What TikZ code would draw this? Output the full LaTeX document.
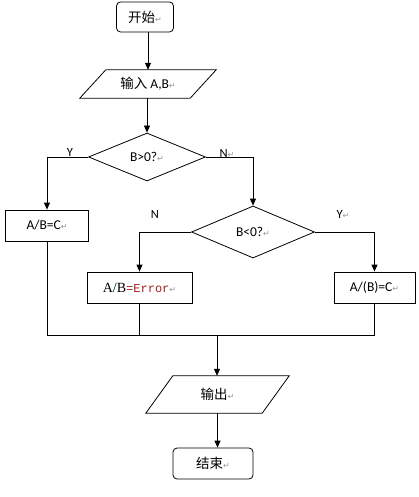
\documentclass[tikz,border=0pt]{standalone}
\usepackage{fontspec}
\setmainfont{Carlito}
\newfontfamily\cjk{Noto Sans CJK SC}
\newfontfamily\symf{DejaVu Sans}
\newfontfamily\serf{Liberation Serif}
\newfontfamily\monof{Liberation Mono}
\usetikzlibrary{shapes.geometric,arrows.meta,calc}
\definecolor{pmcol}{RGB}{150,150,150}
\definecolor{errcol}{RGB}{165,30,30}
\newcommand{\pmk}{{\symf\color{pmcol}\fontsize{8}{8}\selectfont ↵}}
\begin{document}
\begin{tikzpicture}[x=1pt,y=-1pt,
  font=\fontsize{13.5}{15}\selectfont,
  line/.style={draw, line width=0.8pt},
  arr/.style={line, -{Triangle[length=7pt,width=6pt]}},
  rbox/.style={draw, line width=0.8pt, rounded corners=4pt, inner sep=0pt},
  box/.style={draw, line width=0.8pt, minimum height=31pt, inner sep=0pt},
  dec/.style={diamond, draw, line width=0.8pt, inner sep=0pt, aspect=2.4},
  pg/.style={inner sep=0pt},
  lbl/.style={font=\fontsize{12.5}{14}\selectfont}]
\useasboundingbox (0,0) rectangle (418,497);
\fill[white] (0,0) rectangle (418,497);

\node[rbox, minimum width=57pt, minimum height=30pt] (start) at (145,17) {{\cjk 开始}\pmk};

\node[pg, minimum width=110pt, minimum height=28pt] (in) at (148,84) {{\cjk 输入} A,B\pmk};
\draw[line] ($(in.north west)+(13,0)$) -- ($(in.north east)+(13,0)$) -- ($(in.south east)+(-13,0)$) -- ($(in.south west)+(-13,0)$) -- cycle;

\node[dec, minimum width=117pt, minimum height=48pt] (d1) at (147,157) {B>0?\pmk};
\node[box, minimum width=83pt] (ab) at (47,225.5) {A/B=C\pmk};
\node[dec, minimum width=123pt, minimum height=52pt] (d2) at (253,232) {B<0?\pmk};
\node[box, minimum width=105pt] (er) at (139.5,287.5) {\raisebox{-3pt}{{\serf\fontsize{14}{15}\selectfont A/B}{\monof\fontsize{12}{13}\selectfont\color{errcol}=Error}\pmk}};
\node[box, minimum width=81pt] (ac) at (374.5,287.5) {A/(B)=C\pmk};
\coordinate (m) at (217,335);

\node[pg, minimum width=116pt, minimum height=37pt] (out) at (217.5,394.5) {{\cjk 输出}\pmk};
\draw[line] ($(out.north west)+(13.5,0)$) -- ($(out.north east)+(13.5,0)$) -- ($(out.south east)+(-13.5,0)$) -- ($(out.south west)+(-13.5,0)$) -- cycle;

\node[rbox, minimum width=80pt, minimum height=31pt] (end) at (213,463.5) {{\cjk 结束}\pmk};

\node[lbl] (ly1) at (70,152) {Y};
\node[lbl] (ln1) at (227,153) {N\pmk};
\node[lbl] (ln2) at (155,214) {N};
\node[lbl] (ly2) at (343,214) {Y\pmk};

\draw[arr] (in.north |- start.south) -- (in.north);
\draw[arr] (in.south -| d1.north) -- (d1.north);
\draw[arr] (d1.west) -| (ab.north);
\draw[arr] (d1.east) -| (d2.north);
\draw[arr] (d2.west) -| (er.north);
\draw[arr] (d2.east) -| (ac.north);
\draw[line] (ab.south) -- (ab.south |- m) -- (ac.south |- m) -- (ac.south);
\draw[line] (er.south) -- (er.south |- m);
\draw[arr] (m) -- (m |- out.north);
\draw[arr] (out.south) -- (out.south |- end.north);
\end{tikzpicture}
\end{document}
